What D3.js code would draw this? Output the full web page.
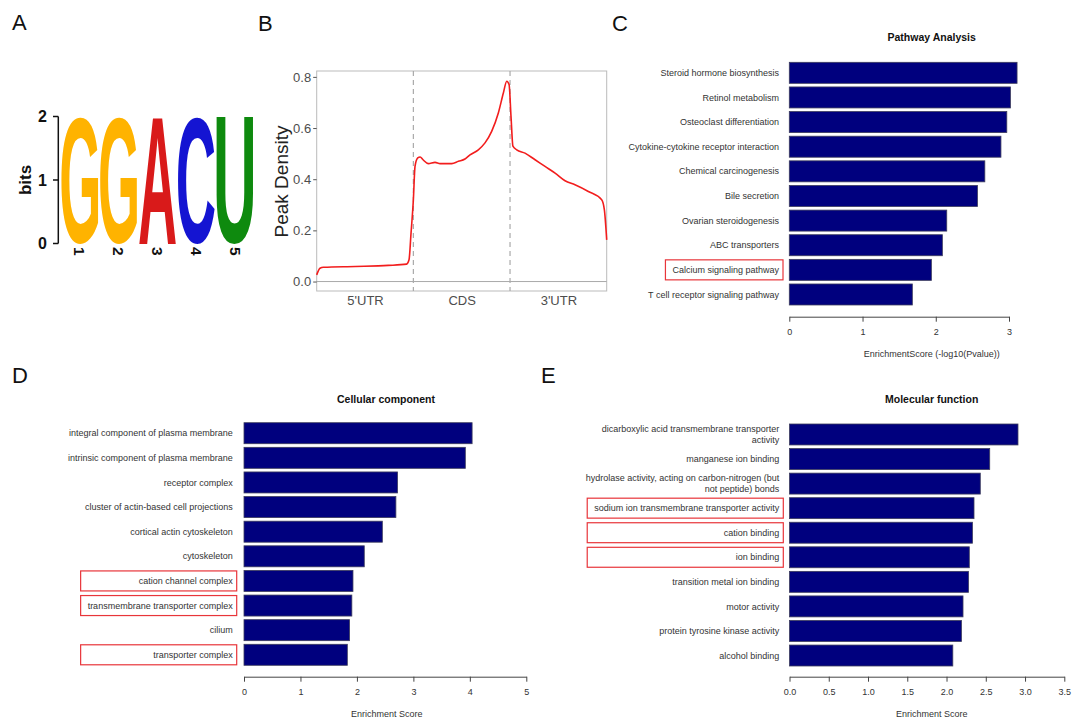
<!DOCTYPE html>
<html>
<head>
<meta charset="utf-8">
<script src="https://cdn.jsdelivr.net/npm/d3@7"></script>
<style>
  body { margin: 0; background: #fff; }
  svg { display: block; font-family: "Liberation Sans", Arial, sans-serif; }
</style>
</head>
<body>
<svg id="fig" width="1086" height="719"></svg>
<script>
// ---- data ----
var logoPositions = ["1", "2", "3", "4", "5"];
var logoLetters = ["G", "G", "A", "C", "U"];
var logoBits = [2, 2, 2, 2, 2];
var logoTicks = [0, 1, 2];

var regionLabels = ["5'UTR", "CDS", "3'UTR"];
var densityPos = [0, 0.034, 0.07, 0.4, 0.74, 0.93, 0.955, 0.976, 1.0, 1.017, 1.045, 1.07, 1.1, 1.155, 1.224,
  1.276, 1.397, 1.466, 1.534, 1.586, 1.672, 1.741, 1.81, 1.879, 1.931, 1.966, 1.99, 2.01, 2.03, 2.069,
  2.155, 2.259, 2.362, 2.466, 2.569, 2.672, 2.81, 2.948, 2.976, 3.0];
var densityVal = [0.026, 0.052, 0.056, 0.059, 0.063, 0.068, 0.085, 0.19, 0.32, 0.45, 0.483, 0.487, 0.476, 0.461, 0.466,
  0.461, 0.461, 0.47, 0.479, 0.495, 0.515, 0.542, 0.587, 0.659, 0.737, 0.783, 0.77, 0.646, 0.529, 0.515,
  0.502, 0.476, 0.45, 0.424, 0.394, 0.378, 0.352, 0.32, 0.28, 0.163];
var densityTicks = [0, 0.2, 0.4, 0.6, 0.8];

var pathwayTerms = ["Steroid hormone biosynthesis", "Retinol metabolism", "Osteoclast differentiation",
  "Cytokine-cytokine receptor interaction", "Chemical carcinogenesis", "Bile secretion",
  "Ovarian steroidogenesis", "ABC transporters", "Calcium signaling pathway", "T cell receptor signaling pathway"];
var pathwayScores = [3.11, 3.02, 2.97, 2.89, 2.67, 2.57, 2.15, 2.09, 1.94, 1.68];
var pathwayMarked = ["Calcium signaling pathway"];
var pathwayTicks = [0, 1, 2, 3];

var ccTerms = ["integral component of plasma membrane", "intrinsic component of plasma membrane", "receptor complex",
  "cluster of actin-based cell projections", "cortical actin cytoskeleton", "cytoskeleton",
  "cation channel complex", "transmembrane transporter complex", "cilium", "transporter complex"];
var ccScores = [4.04, 3.92, 2.72, 2.69, 2.45, 2.13, 1.93, 1.91, 1.87, 1.83];
var ccMarked = ["cation channel complex", "transmembrane transporter complex", "transporter complex"];
var ccTicks = [0, 1, 2, 3, 4, 5];

var mfTerms = ["dicarboxylic acid transmembrane transporter\nactivity", "manganese ion binding",
  "hydrolase activity, acting on carbon-nitrogen (but\nnot peptide) bonds",
  "sodium ion transmembrane transporter activity", "cation binding", "ion binding",
  "transition metal ion binding", "motor activity", "protein tyrosine kinase activity", "alcohol binding"];
var mfScores = [2.91, 2.55, 2.43, 2.35, 2.33, 2.29, 2.28, 2.21, 2.19, 2.08];
var mfMarked = ["sodium ion transmembrane transporter activity", "cation binding", "ion binding"];
var mfTicks = [0, 0.5, 1, 1.5, 2, 2.5, 3, 3.5];

var letterColors = { G: "#FFB300", A: "#D91A1A", C: "#1414D2", U: "#0E8A0E" };

var svg = d3.select("#fig");
var FONT = "'Liberation Sans', Arial, sans-serif";

// panel letters
[["A", 12, 30], ["B", 258, 31], ["C", 612, 31], ["D", 12, 383], ["E", 541, 383]].forEach(function(p) {
  svg.append("text").attr("x", p[1]).attr("y", p[2]).attr("font-size", 22).attr("fill", "#111").text(p[0]);
});

// ---- A: sequence logo ----
var gA = svg.append("g");
var logoX = d3.scaleBand().domain(logoPositions).range([60.5, 254.5]).paddingInner(0.05).paddingOuter(0.025);
var logoY = d3.scaleLinear().domain([0, 2]).range([243.5, 116.5]);
var ctx = document.createElement("canvas").getContext("2d");
ctx.font = "bold 100px 'Liberation Sans'";

logoLetters.forEach(function(ch, i) {
  var m = ctx.measureText(ch);
  var L = -m.actualBoundingBoxLeft, R = m.actualBoundingBoxRight,
      T = -m.actualBoundingBoxAscent, B = m.actualBoundingBoxDescent;
  var x0 = logoX(logoPositions[i]), w = logoX.bandwidth();
  var y0 = logoY(logoBits[i]), h = logoY(0) - y0;
  var sx = w / (R - L), sy = h / (B - T);
  gA.append("text")
    .attr("font-family", "'Liberation Sans'")
    .attr("font-size", 100).attr("font-weight", "bold")
    .attr("transform", "translate(" + (x0 - L * sx) + "," + (y0 - T * sy) + ") scale(" + sx + "," + sy + ")")
    .attr("fill", letterColors[ch])
    .text(ch);
});

gA.append("line").attr("x1", 58.3).attr("x2", 58.3).attr("y1", logoY(0)).attr("y2", logoY(2))
  .attr("stroke", "#111").attr("stroke-width", 1.5);
logoTicks.forEach(function(t) {
  gA.append("line").attr("x1", 53).attr("x2", 58.3).attr("y1", logoY(t)).attr("y2", logoY(t))
    .attr("stroke", "#111").attr("stroke-width", 1.5);
  gA.append("text").attr("x", 47).attr("y", logoY(t)).attr("dy", "0.36em")
    .attr("text-anchor", "end").attr("font-size", 16).attr("font-weight", "bold").attr("fill", "#111").text(t);
});
gA.append("text").attr("transform", "translate(31,180) rotate(-90)").attr("text-anchor", "middle")
  .attr("font-size", 17).attr("font-weight", "bold").attr("fill", "#111").text("bits");
logoPositions.forEach(function(p) {
  var cx = logoX(p) + logoX.bandwidth() / 2;
  gA.append("text").attr("transform", "translate(" + cx + ",247) rotate(90)")
    .attr("dy", "0.36em").attr("font-size", 15.5).attr("font-weight", "bold").attr("fill", "#111").text(p);
});

// ---- B: peak density ----
var gB = svg.append("g");
var xB = d3.scaleLinear().domain([0, 3]).range([316.7, 606.7]);
var yB = d3.scaleLinear().domain([-0.037, 0.823]).range([291, 71]);

gB.append("rect").attr("x", xB(0)).attr("y", yB(0.823)).attr("width", xB(3) - xB(0))
  .attr("height", yB(-0.037) - yB(0.823)).attr("fill", "none").attr("stroke", "#bbb").attr("stroke-width", 1);
gB.append("line").attr("x1", xB(0)).attr("x2", xB(3)).attr("y1", yB(0)).attr("y2", yB(0))
  .attr("stroke", "#aaa").attr("stroke-width", 1);
[1, 2].forEach(function(b) {
  gB.append("line").attr("x1", xB(b)).attr("x2", xB(b)).attr("y1", yB(0.823)).attr("y2", yB(-0.037))
    .attr("stroke", "#aaa").attr("stroke-width", 1.2).attr("stroke-dasharray", "5,4");
});

var densityLine = d3.line()
  .x(function(d, i) { return xB(densityPos[i]); })
  .y(function(d) { return yB(d); })
  .curve(d3.curveMonotoneX);
gB.append("path").datum(densityVal).attr("d", densityLine)
  .attr("fill", "none").attr("stroke", "#f21d1d").attr("stroke-width", 1.6);

var axB = gB.append("g").attr("transform", "translate(" + xB(0) + ",0)")
  .call(d3.axisLeft(yB).tickValues(densityTicks).tickSize(3.5).tickPadding(2).tickFormat(d3.format(".1f")));
axB.select(".domain").remove();
axB.selectAll("line").attr("stroke", "#555");
axB.selectAll("text").attr("font-size", 13).attr("font-family", FONT).attr("fill", "#4d4d4d");

var axBx = gB.append("g").attr("transform", "translate(0," + yB(-0.037) + ")")
  .call(d3.axisBottom(xB).tickValues([0.5, 1.5, 2.5]).tickSize(0).tickPadding(5)
    .tickFormat(function(d, i) { return regionLabels[i]; }));
axBx.select(".domain").remove();
axBx.selectAll("text").attr("font-size", 13).attr("font-family", FONT).attr("fill", "#4d4d4d");

gB.append("text").attr("transform", "translate(288,181.5) rotate(-90)").attr("text-anchor", "middle")
  .attr("font-size", 19).attr("fill", "#222").text("Peak Density");

// ---- C, D, E: enrichment bar charts ----
function barPanel(terms, scores, marked, ticks, fmt, title, axisTitle, lay) {
  var g = svg.append("g");
  var x = d3.scaleLinear().domain([0, ticks[ticks.length - 1]]).range(lay.xr);
  var y = d3.scaleBand().domain(terms).range(lay.yr).paddingInner(0.147).paddingOuter(0.0735);

  g.selectAll("rect.bar")
    .data(terms)
    .enter().append("rect")
      .attr("class", "bar")
      .attr("x", x(0))
      .attr("y", function(d) { return y(d); })
      .attr("width", function(d, i) { return x(scores[i]) - x(0); })
      .attr("height", y.bandwidth())
      .attr("fill", "#00007e")
      .attr("stroke", "#3c3c5c")
      .attr("stroke-width", 0.8);

  var maxW = 0;
  terms.forEach(function(t) {
    var lines = t.split("\n");
    var txt = g.append("text")
      .attr("x", lay.labelRight)
      .attr("y", y(t) + y.bandwidth() / 2)
      .attr("text-anchor", "end")
      .attr("font-size", 9)
      .attr("fill", "#333");
    lines.forEach(function(l, k) {
      var ts = txt.append("tspan").attr("x", lay.labelRight)
        .attr("dy", k == 0 ? (0.35 - (lines.length - 1) * 0.595) + "em" : "1.19em").text(l);
      if (marked.indexOf(t) >= 0) maxW = Math.max(maxW, ts.node().getComputedTextLength());
    });
  });

  // red boxes round highlighted terms
  marked.forEach(function(t) {
    g.append("rect")
      .attr("x", lay.labelRight - maxW - 7)
      .attr("y", y(t) + 0.5)
      .attr("width", maxW + 11)
      .attr("height", y.bandwidth() - 1)
      .attr("fill", "none")
      .attr("stroke", "#e8353a")
      .attr("stroke-width", 1.2);
  });

  var ax = g.append("g").attr("transform", "translate(0," + lay.axisY + ")")
    .call(d3.axisBottom(x).tickValues(ticks).tickSize(5).tickSizeOuter(0).tickPadding(6.5).tickFormat(fmt));
  ax.selectAll("path, line").attr("stroke", "#444");
  ax.selectAll("text").attr("font-size", 9).attr("font-family", FONT).attr("fill", "#333");

  g.append("text").attr("x", lay.title[0]).attr("y", lay.title[1]).attr("text-anchor", "middle")
    .attr("font-size", 10.5).attr("font-weight", "bold").attr("fill", "#111").text(title);
  g.append("text").attr("x", lay.axisTitle[0]).attr("y", lay.axisTitle[1]).attr("text-anchor", "middle")
    .attr("font-size", 9).attr("fill", "#333").text(axisTitle);
}

barPanel(pathwayTerms, pathwayScores, pathwayMarked, pathwayTicks, d3.format("d"),
  "Pathway Analysis", "EnrichmentScore (-log10(Pvalue))",
  { xr: [789.3, 1009], yr: [60.5, 306.8], labelRight: 779, axisY: 316.7, title: [931.7, 40.5], axisTitle: [931.7, 356.5] });

barPanel(ccTerms, ccScores, ccMarked, ccTicks, d3.format("d"),
  "Cellular component", "Enrichment Score",
  { xr: [244, 526.3], yr: [420.9, 667.1], labelRight: 232.7, axisY: 676.7, title: [386, 402.5], axisTitle: [386.7, 716.5] });

barPanel(mfTerms, mfScores, mfMarked, mfTicks, d3.format(".1f"),
  "Molecular function", "Enrichment Score",
  { xr: [789.5, 1064.3], yr: [422.2, 667.8], labelRight: 779.3, axisY: 676.7, title: [931.7, 403], axisTitle: [931.7, 717] });
</script>
</body>
</html>
